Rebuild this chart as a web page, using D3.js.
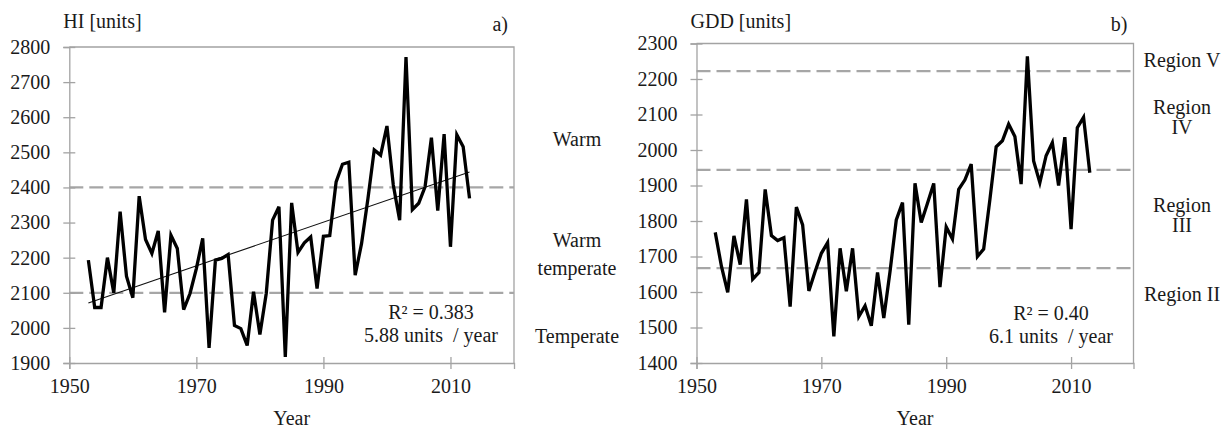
<!DOCTYPE html>
<html>
<head>
<meta charset="utf-8">
<script src="https://cdn.jsdelivr.net/npm/d3@7"></script>
<style>
  html, body { margin: 0; padding: 0; background: #fff; }
  svg { display: block; }
  text { font-family: "Liberation Serif", "Times New Roman", serif; fill: #1a1a1a; }
</style>
</head>
<body>
<svg id="chart" width="1228" height="429"></svg>
<script>
// ---------- data ----------
const years = d3.range(1953, 2014);
const hiValues = [2193, 2058, 2058, 2200, 2100, 2331, 2147, 2086, 2375, 2252,
                  2212, 2276, 2044, 2264, 2226, 2052, 2098, 2169, 2255, 1943,
                  2193, 2198, 2209, 2007, 1998, 1950, 2103, 1981, 2098, 2307,
                  2345, 1917, 2356, 2215, 2242, 2259, 2112, 2261, 2263, 2416,
                  2466, 2472, 2150, 2240, 2367, 2507, 2492, 2575, 2407, 2307,
                  2771, 2337, 2355, 2402, 2542, 2334, 2552, 2231, 2550, 2516, 2369];
const gddValues = [1768, 1672, 1599, 1758, 1677, 1861, 1636, 1655, 1889, 1759,
                   1745, 1753, 1559, 1839, 1789, 1603, 1658, 1709, 1739, 1475,
                   1723, 1602, 1723, 1531, 1561, 1505, 1655, 1527, 1658, 1803,
                   1852, 1508, 1906, 1796, 1850, 1906, 1614, 1783, 1749, 1889,
                   1916, 1960, 1700, 1721, 1861, 2009, 2026, 2073, 2038, 1904,
                   2264, 1969, 1908, 1984, 2021, 1900, 2036, 1777, 2063, 2092, 1936];
const xTicks = [1950, 1970, 1990, 2010];
const hiTicks = [1900, 2000, 2100, 2200, 2300, 2400, 2500, 2600, 2700, 2800];
const gddTicks = [1400, 1500, 1600, 1700, 1800, 1900, 2000, 2100, 2200, 2300];
const hiThresholds = [2100, 2400];
const gddThresholds = [1667, 1944, 2222];
const hiClassLabels = [["Warm"], ["Warm", "temperate"], ["Temperate"]];
const hiClassValues = [2535, 2207, 1974];
const gddClassLabels = [["Region V"], ["Region", "IV"], ["Region", "III"], ["Region II"]];
const gddClassValues = [2250, 2090, 1814, 1591];
const hiStats = ["R\u00B2 = 0.383", "5.88 units  / year"];
const gddStats = ["R\u00B2 = 0.40", "6.1 units  / year"];

// ---------- drawing ----------
const svg = d3.select("#chart");
const axisColor = "#a3a3a3";
const dashColor = "#a6a6a6";
const FS = 20;

function panel(opts) {
  const x = d3.scaleLinear().domain([1950, 2020]).range([opts.left, opts.right]);
  const y = d3.scaleLinear().domain(opts.yDomain).range([opts.bottom, opts.top]);
  const g = svg.append("g");

  g.append("path")
    .attr("d", `M${opts.left},${opts.top}H${opts.right}V${opts.bottom}`)
    .attr("fill", "none").attr("stroke", axisColor).attr("stroke-width", 1.3);

  g.selectAll(".thr").data(opts.thresholds).enter().append("line")
    .attr("x1", opts.left).attr("x2", opts.right)
    .attr("y1", d => y(d)).attr("y2", d => y(d))
    .attr("stroke", dashColor).attr("stroke-width", 2.2)
    .attr("stroke-dasharray", "14,6");

  const ya = g.append("g").attr("transform", `translate(${opts.left},0)`)
    .call(d3.axisLeft(y).tickValues(opts.yTicks).tickSize(6).tickPadding(13).tickFormat(d3.format("d")));
  ya.select(".domain").attr("stroke", axisColor).attr("stroke-width", 1.3);
  ya.selectAll(".tick line").attr("x1", 6).attr("stroke", axisColor).attr("stroke-width", 1.3);
  ya.selectAll(".tick text").style("font-size", FS + "px").style("font-family", '"Liberation Serif", serif').attr("fill", "#1a1a1a");

  const xa = g.append("g").attr("transform", `translate(0,${opts.bottom})`)
    .call(d3.axisBottom(x).tickValues(xTicks).tickSize(6).tickPadding(10).tickFormat(d3.format("d")));
  xa.select(".domain").attr("stroke", axisColor).attr("stroke-width", 1.3);
  xa.selectAll(".tick line").attr("y1", -6).attr("stroke", axisColor).attr("stroke-width", 1.3);
  xa.selectAll(".tick text").style("font-size", FS + "px").style("font-family", '"Liberation Serif", serif').attr("fill", "#1a1a1a");

  if (opts.trend) {
    const n = years.length;
    const mx = d3.mean(years), my = d3.mean(opts.values);
    let sxy = 0, sxx = 0;
    years.forEach((yr, i) => { sxy += (yr - mx) * (opts.values[i] - my); sxx += (yr - mx) * (yr - mx); });
    const b = sxy / sxx, a = my - b * mx;
    const x0 = years[0], x1 = years[n - 1];
    g.append("line")
      .attr("x1", x(x0)).attr("y1", y(a + b * x0))
      .attr("x2", x(x1)).attr("y2", y(a + b * x1))
      .attr("stroke", "#111").attr("stroke-width", 1.1);
  }

  g.append("path")
    .datum(opts.values)
    .attr("fill", "none").attr("stroke", "#000").attr("stroke-width", 3.3)
    .attr("stroke-linejoin", "miter").attr("stroke-miterlimit", 4)
    .attr("d", d3.line().x((d, i) => x(years[i])).y(d => y(d)));

  g.append("text").attr("x", opts.left - 6).attr("y", 28)
    .style("font-size", FS + "px").text(opts.title);
  g.append("text").attr("x", opts.right - 6).attr("y", 31).attr("text-anchor", "end")
    .style("font-size", FS + "px").text(opts.letter);

  const st = g.append("text").attr("text-anchor", "middle").style("font-size", FS + "px")
    .attr("xml:space", "preserve").style("white-space", "pre");
  opts.stats.forEach((s, i) => {
    st.append("tspan").attr("x", opts.statsX).attr("y", opts.statsY + i * 23).text(s);
  });

  g.append("text").attr("x", (opts.left + opts.right) / 2).attr("y", 420)
    .attr("text-anchor", "middle").attr("dominant-baseline", "middle")
    .style("font-size", FS + "px").text("Year");

  opts.classLabels.forEach((lines, k) => {
    const cy = y(opts.classValues[k]);
    const lh = opts.lineH;
    const t = g.append("text").attr("text-anchor", "middle").style("font-size", FS + "px");
    lines.forEach((ln, j) => {
      t.append("tspan").attr("x", opts.classX)
        .attr("y", cy + (j - (lines.length - 1) / 2) * lh + 6).text(ln);
    });
  });
  return { x, y };
}

panel({
  left: 69.3, right: 514, top: 47, bottom: 363,
  yDomain: [1900, 2800], yTicks: hiTicks, values: hiValues,
  thresholds: hiThresholds, trend: true,
  title: "HI [units]", letter: "a)",
  stats: hiStats, statsX: 431, statsY: 319,
  classLabels: hiClassLabels, classValues: hiClassValues, classX: 577, lineH: 28
});

panel({
  left: 696.5, right: 1133.5, top: 43.5, bottom: 363,
  yDomain: [1400, 2300], yTicks: gddTicks, values: gddValues,
  thresholds: gddThresholds, trend: false,
  title: "GDD [units]", letter: "b)",
  stats: gddStats, statsX: 1051, statsY: 320,
  classLabels: gddClassLabels, classValues: gddClassValues, classX: 1182, lineH: 20
});
</script>
</body>
</html>
